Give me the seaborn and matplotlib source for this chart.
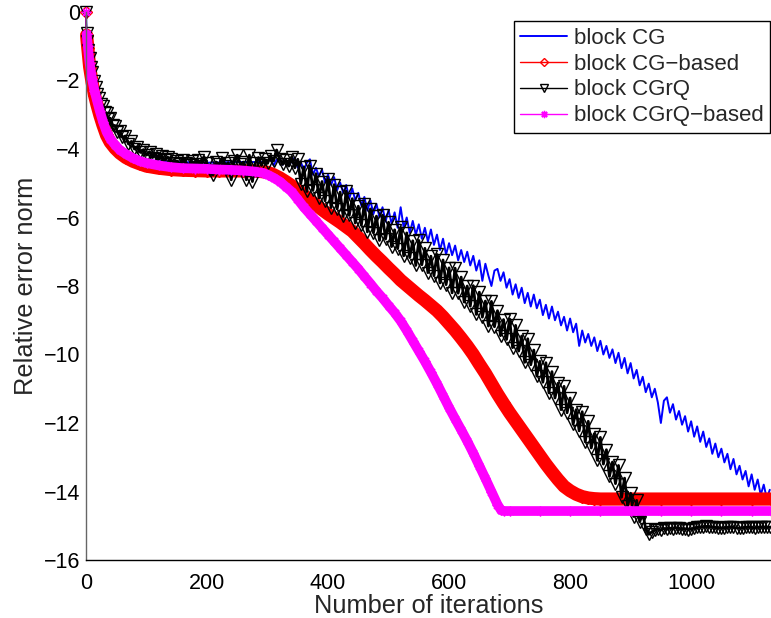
import numpy as np
import pandas as pd
import matplotlib
matplotlib.use("Agg")
import matplotlib.pyplot as plt
import seaborn as sns

# ---------------- data ----------------
series_names = ["block CG", "block CG\u2212based", "block CGrQ", "block CGrQ\u2212based"]

# block CG (blue, noisy)
cg_it_early = [0, 1, 3, 6, 10, 15, 20, 30, 40, 50, 60, 80, 100, 150, 200, 250, 295]
cg_val_early = [0, -0.65, -1.0, -1.5, -1.95, -2.4, -2.75, -3.3, -3.7, -3.95, -4.1, -4.25,
                -4.33, -4.38, -4.4, -4.38, -4.38]
cg_it_late = list(range(300, 1131, 5))
cg_val_late = [
    -4.38, -4.28, -4.48, -4.32, -4.26, -4.46, -4.30, -4.50, -4.34, -4.25, -4.55, -4.38,
    -4.62, -4.40, -4.30, -4.75, -4.55, -4.80, -4.60, -4.98, -4.75, -5.05, -4.82, -5.20,
    -4.98, -5.28, -5.05, -5.45, -5.15, -5.50, -5.28, -5.65, -5.40, -5.80, -5.50, -5.90,
    -5.60, -6.00, -5.70, -6.12, -5.78, -6.18, -5.85, -6.30, -5.70, -6.30, -6.00, -6.45,
    -6.10, -6.50, -6.20, -6.62, -6.30, -6.70, -6.35, -6.80, -6.50, -6.95, -6.62, -7.08,
    -6.75, -7.10, -6.82, -7.25, -6.95, -7.30, -7.00, -7.40, -7.12, -7.55, -7.25, -7.85,
    -7.35, -7.70, -8.00, -7.55, -7.50, -7.85, -7.60, -8.05, -7.80, -8.25, -7.95, -8.35,
    -8.05, -8.50, -8.20, -8.60, -8.25, -8.65, -8.40, -8.85, -8.55, -8.95, -8.60, -9.00,
    -8.75, -9.15, -8.90, -9.30, -8.95, -9.35, -9.10, -9.75, -9.30, -9.65, -9.40, -9.75,
    -9.50, -9.90, -9.60, -10.00, -9.75, -10.10, -9.85, -10.25, -9.95, -10.40, -10.10, -10.55,
    -10.25, -10.70, -10.45, -10.90, -10.65, -11.10, -10.85, -11.25, -11.00, -11.40, -12.00, -11.35,
    -11.25, -11.70, -11.45, -11.90, -11.65, -12.05, -11.80, -12.25, -11.95, -12.40, -12.10, -12.55,
    -12.25, -12.70, -12.45, -12.90, -12.60, -13.00, -12.75, -13.15, -12.90, -13.35, -13.05, -13.50,
    -13.25, -13.65, -13.40, -13.85, -13.50, -13.95, -13.65, -14.10, -13.80, -14.20, -13.95,
]

# block CG-based (red, smooth)
cgb_it = [0, 1, 3, 6, 10, 14, 18, 23, 28, 34, 40, 48, 56, 66, 78, 90, 100, 120, 140, 160,
          180, 200, 220, 240, 260, 280, 300, 310, 320, 330, 340, 350, 360, 370, 380, 390,
          400, 410, 420, 430, 440, 450, 460, 470, 480, 490, 500, 510, 520, 530, 540, 550,
          560, 570, 580, 590, 600, 610, 620, 630, 640, 650, 660, 670, 680, 690, 700, 710,
          720, 730, 740, 750, 760, 770, 780, 790, 800, 810, 820, 830, 840, 850, 900, 950,
          1000, 1050, 1100, 1132]
cgb_val = [0, -0.68, -1.05, -1.6, -2.05, -2.42, -2.7, -3.02, -3.3, -3.6, -3.8, -3.98, -4.12,
           -4.25, -4.36, -4.44, -4.5, -4.56, -4.6, -4.62, -4.63, -4.64, -4.64, -4.64, -4.64,
           -4.64, -4.68, -4.75, -4.84, -4.95, -5.07, -5.2, -5.35, -5.5, -5.63, -5.77, -5.9,
           -6.02, -6.14, -6.27, -6.4, -6.58, -6.76, -6.95, -7.13, -7.3, -7.48, -7.65, -7.83,
           -7.98, -8.13, -8.28, -8.42, -8.57, -8.72, -8.9, -9.1, -9.3, -9.52, -9.75, -10.0,
           -10.28, -10.55, -10.85, -11.15, -11.43, -11.7, -11.95, -12.2, -12.45, -12.7,
           -12.95, -13.2, -13.43, -13.65, -13.85, -13.98, -14.08, -14.15, -14.19, -14.21,
           -14.22, -14.22, -14.22, -14.22, -14.22, -14.22, -14.22]

# block CGrQ (black, noisy)
cgrq_it_early = [0, 1, 2, 4, 6, 8, 10, 13, 16, 19, 22, 25, 28, 31, 34, 37, 40, 44, 48, 52,
                 56, 60, 65, 70, 75, 80, 85, 90, 95, 100, 105, 110, 115, 120, 125, 130, 135]
cgrq_val_early = [0, -0.62, -0.85, -1.12, -1.33, -1.6, -1.76, -2.02, -2.18, -2.4, -2.5,
                  -2.68, -2.74, -2.92, -2.95, -3.12, -3.1, -3.3, -3.32, -3.5, -3.48, -3.66,
                  -3.62, -3.85, -3.78, -4.0, -3.93, -4.1, -4.02, -4.18, -4.08, -4.25, -4.15,
                  -4.3, -4.2, -4.33, -4.24]
cgrq_it_late = list(range(140, 1131, 5))
cgrq_val_late = [
    -4.30, -4.42, -4.35, -4.45, -4.32, -4.40, -4.48, -4.36, -4.44, -4.33,
    -4.50, -4.23, -4.42, -4.60, -4.76, -4.38, -4.45, -4.27, -4.50, -4.40,
    -4.90, -4.35, -4.18, -4.45, -4.38, -4.90, -4.18, -4.95, -4.40, -4.25,
    -4.48, -4.30, -4.42, -4.20, -4.35, -4.03, -4.28, -4.45, -4.32, -4.50,
    -4.23, -4.55,
    -4.30, -5.01, -4.52, -5.24, -4.50, -5.21, -4.72, -5.43, -4.95, -5.51,
    -4.89, -5.71, -5.04, -5.75, -5.26, -5.97, -5.23, -5.94, -5.45, -6.16,
    -5.67, -6.23, -5.60, -6.42, -5.75, -6.45, -5.96, -6.67, -5.93, -6.63,
    -6.14, -6.85, -6.36, -6.91, -6.29, -7.12, -6.45, -7.17, -6.68, -7.40,
    -6.67, -7.38, -6.90, -7.61, -7.13, -7.70, -7.08, -7.91, -7.24, -7.96,
    -7.47, -8.20, -7.48, -8.21, -7.74, -8.47, -8.00, -8.59, -7.99, -8.83,
    -8.18, -8.91, -8.44, -9.17, -8.45, -9.19, -8.72, -9.45, -8.98, -9.56,
    -8.96, -9.80, -9.15, -9.90, -9.46, -10.23, -9.54, -10.30, -9.87, -10.63,
    -10.20, -10.81, -10.24, -11.12, -10.50, -11.27, -10.84, -11.61, -10.93, -11.70,
    -11.27, -12.04, -11.61, -12.23, -11.67, -12.55, -11.95, -12.73, -12.31, -13.09,
    -12.42, -13.20, -12.78, -13.56, -13.14, -13.77, -13.24, -14.17, -13.61, -14.43,
    -14.05, -14.73, -14.26, -14.89, -14.62, -15.10, -15.25, -15.18, -15.12,
    -15.10, -15.12, -15.08, -15.10, -15.07, -15.09, -15.06, -15.08, -15.10, -15.09,
    -15.11, -15.10, -15.07, -15.05, -15.04, -15.03, -15.02, -15.03, -15.04, -15.05,
    -15.06, -15.07, -15.06, -15.05, -15.04, -15.05, -15.06, -15.07, -15.06, -15.05,
    -15.04, -15.05, -15.06, -15.05, -15.04, -15.05, -15.05, -15.04,
]

# block CGrQ-based (magenta, smooth)
cgrqb_it = [0, 1, 3, 6, 10, 14, 18, 23, 28, 34, 40, 48, 56, 66, 78, 90, 100, 120, 140, 160,
            180, 200, 220, 240, 260, 280, 293, 300, 310, 321, 330, 340, 349, 360, 370, 380,
            390, 400, 410, 420, 430, 440, 450, 460, 470, 480, 490, 500, 510, 520, 530, 540,
            550, 560, 570, 580, 590, 600, 610, 620, 630, 640, 650, 660, 670, 680, 686, 690,
            700, 750, 800, 850, 900, 950, 1000, 1050, 1100, 1132]
cgrqb_val = [0, -0.65, -1.0, -1.5, -1.95, -2.3, -2.57, -2.9, -3.2, -3.5, -3.7, -3.88, -4.03,
             -4.15, -4.27, -4.36, -4.41, -4.48, -4.53, -4.56, -4.57, -4.58, -4.6, -4.61,
             -4.63, -4.66, -4.7, -4.75, -4.84, -4.96, -5.1, -5.25, -5.45, -5.7, -5.9, -6.1,
             -6.3, -6.5, -6.7, -6.9, -7.1, -7.3, -7.5, -7.72, -7.93, -8.15, -8.35, -8.57,
             -8.78, -9.02, -9.3, -9.6, -9.9, -10.2, -10.52, -10.85, -11.2, -11.55, -11.88,
             -12.2, -12.53, -12.88, -13.25, -13.62, -14.0, -14.38, -14.55, -14.57, -14.57,
             -14.57, -14.57, -14.57, -14.57, -14.57, -14.57, -14.57, -14.57, -14.57]

x_ticks = [0, 200, 400, 600, 800, 1000]
y_ticks = [-16, -14, -12, -10, -8, -6, -4, -2, 0]
x_label = "Number of iterations"
y_label = "Relative error norm"

# ---------------- figure ----------------
sns.set_theme(style="white")
plt.rcParams["font.family"] = ["Liberation Sans", "DejaVu Sans"]
plt.rcParams["axes.unicode_minus"] = True

W, H = 771, 618
fig = plt.figure(figsize=(W / 100, H / 100), dpi=100)
ax = fig.add_axes([86 / W, 58 / H, 685 / W, 548 / H])

df_cg = pd.DataFrame({"it": cg_it_early + cg_it_late, "err": cg_val_early + cg_val_late})
df_cgb = pd.DataFrame({"it": cgb_it, "err": cgb_val})
df_cgrq = pd.DataFrame({"it": cgrq_it_early + cgrq_it_late, "err": cgrq_val_early + cgrq_val_late})
df_cgrqb = pd.DataFrame({"it": cgrqb_it, "err": cgrqb_val})

common = dict(x="it", y="err", sort=False, estimator=None, ax=ax)

# blue
sns.lineplot(data=df_cg, color="#0000ff", lw=1.4, label=series_names[0], **common)
# red: thick band + hollow diamonds
sns.lineplot(data=df_cgb.iloc[1:], color="#ff0000", lw=9.5, label="_nolegend_", **common)
sns.lineplot(data=df_cgb, color="#ff0000", lw=1.0, marker="D", markersize=6,
             markerfacecolor="none", markeredgecolor="#ff0000", markeredgewidth=1.0,
             label=series_names[1], **common)
# black: dense band of triangles
sns.lineplot(data=df_cgrq.iloc[1:], color="black", lw=2.0, label="_nolegend_", **common)
sns.lineplot(data=df_cgrq, color="black", lw=1.0, marker="v", markersize=8.5,
             markerfacecolor="none", markeredgecolor="black", markeredgewidth=1.0,
             label=series_names[2], **common)
# magenta: thick band + asterisks
sns.lineplot(data=df_cgrqb.iloc[1:], color="#ff00ff", lw=7, label="_nolegend_", **common)
sns.lineplot(data=df_cgrqb, color="#ff00ff", lw=1.0, marker=(8, 2, 0), markersize=7,
             markeredgecolor="#ff00ff", markeredgewidth=1.0,
             label=series_names[3], **common)

for ln in ax.lines:
    ln.set_clip_on(False)

ax.set_xlim(0, 1132)
ax.set_ylim(-16, 0)
ax.set_xticks(x_ticks)
ax.set_yticks(y_ticks)
ax.set_xlabel(x_label, fontsize=18.3, labelpad=0)
ax.set_ylabel(y_label, fontsize=18.3, labelpad=4)
ax.tick_params(axis="both", direction="in", length=5, width=0.8, labelsize=15.5,
               colors="black", pad=4)
ax.tick_params(axis="x", pad=9.5)
for s in ["top", "right"]:
    ax.spines[s].set_visible(False)
ax.spines["left"].set_color("#666666")
ax.spines["bottom"].set_color("black")
ax.spines["left"].set_linewidth(1.0)
ax.spines["bottom"].set_linewidth(1.0)
ax.grid(False)

handles, labels = ax.get_legend_handles_labels()
leg = ax.legend(handles, labels, loc="upper right",
                bbox_to_anchor=(770 / W, 1 - 21 / H), bbox_transform=fig.transFigure,
                fontsize=16, handlelength=2.1, handletextpad=0.3, borderpad=0.3,
                labelspacing=0.22, borderaxespad=0, frameon=True, fancybox=False,
                markerscale=0.75)
leg.get_frame().set_edgecolor("black")
leg.get_frame().set_linewidth(1.0)
leg.get_frame().set_alpha(1)

fig.savefig("out.png", dpi=100)
